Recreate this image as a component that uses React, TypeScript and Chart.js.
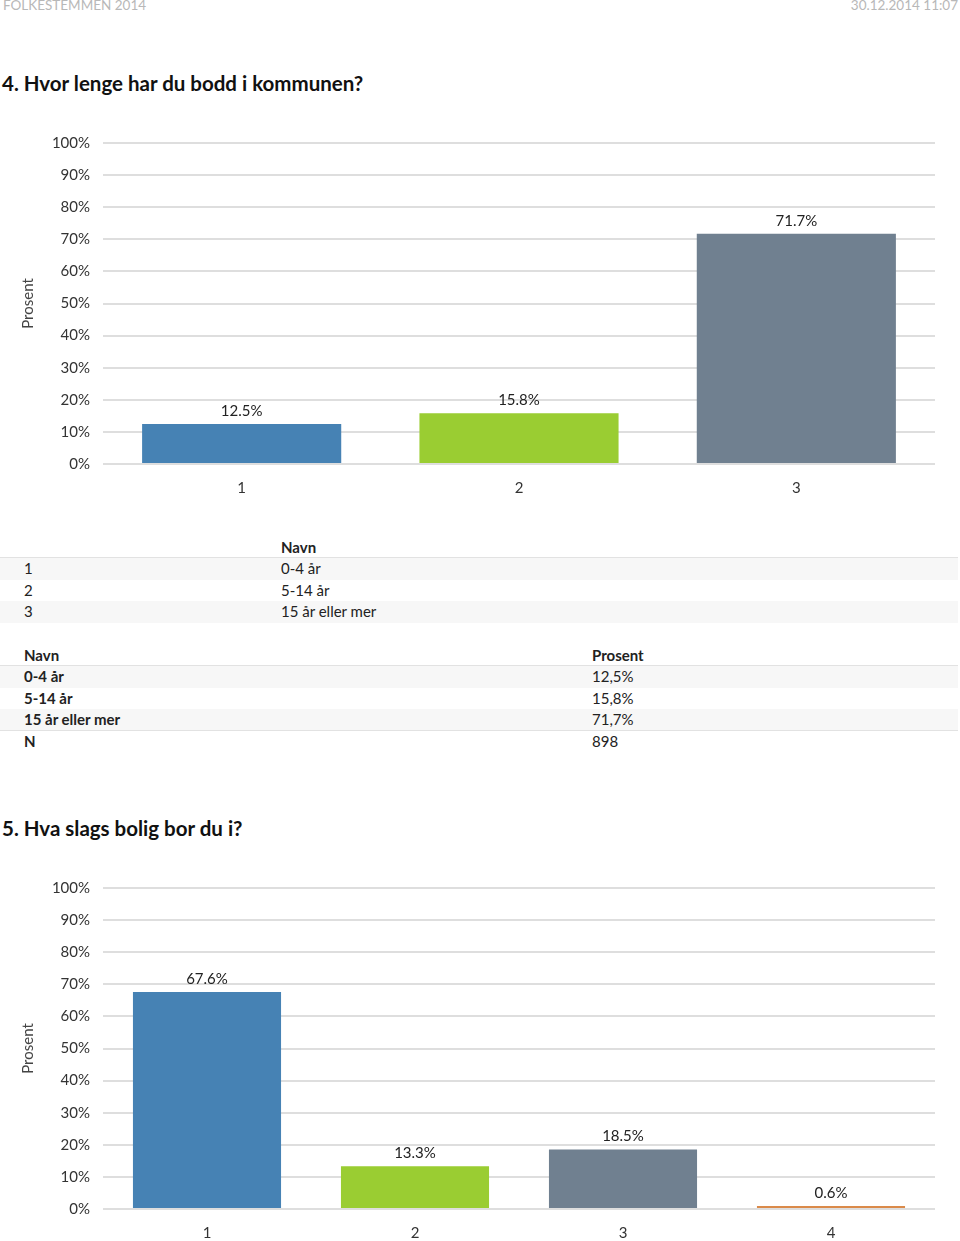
import React, { useEffect, useRef } from "react";
import { Chart, registerables } from "chart.js";

Chart.register(...registerables);

const headerLeft = "FOLKESTEMMEN 2014";
const headerRight = "30.12.2014 11:07";

const q4Title = "4. Hvor lenge har du bodd i kommunen?";
const q4Categories = ["1", "2", "3"];
const q4Values = [12.5, 15.8, 71.7];
const q4Colors = ["#4682B4", "#9ACD32", "#708090"];
const q4Names = ["0-4 år", "5-14 år", "15 år eller mer"];
const q4PercentText = ["12,5%", "15,8%", "71,7%"];
const q4N = "898";

const q5Title = "5. Hva slags bolig bor du i?";
const q5Categories = ["1", "2", "3", "4"];
const q5Values = [67.6, 13.3, 18.5, 0.6];
const q5Colors = ["#4682B4", "#9ACD32", "#708090", "#DA8A4A"];

const yTickMin = 0;
const yTickMax = 100;
const yTickStep = 10;
const axisTitle = "Prosent";

const FONT = "Lato, 'Open Sans', sans-serif";

const valueLabelPlugin = {
  id: "valueLabels",
  afterDatasetsDraw(chart: any) {
    const ctx = chart.ctx;
    const meta = chart.getDatasetMeta(0);
    const data = chart.data.datasets[0].data;
    ctx.save();
    ctx.font = `15px ${FONT}`;
    ctx.fillStyle = "#222";
    ctx.textAlign = "center";
    ctx.textBaseline = "middle";
    meta.data.forEach((bar: any, i: number) => {
      ctx.fillText(`${Number(data[i]).toFixed(1)}%`, bar.x, bar.y - 13);
    });
    ctx.restore();
  },
};

function BarChart(props: {
  labels: string[];
  values: number[];
  colors: string[];
  barPct: number;
  top: number;
}) {
  const ref = useRef<HTMLCanvasElement | null>(null);
  useEffect(() => {
    if (!ref.current) return;
    const chart = new Chart(ref.current, {
      type: "bar",
      data: {
        labels: props.labels,
        datasets: [
          {
            data: props.values,
            backgroundColor: props.colors,
            borderWidth: 0,
            categoryPercentage: 1,
            barPercentage: props.barPct,
            minBarLength: 3,
          },
        ],
      },
      options: {
        animation: false,
        responsive: false,
        maintainAspectRatio: false,
        layout: { padding: { top: 20, right: 25, bottom: 0, left: 0 } },
        plugins: {
          legend: { display: false },
          tooltip: { enabled: false },
        },
        scales: {
          x: {
            grid: { display: false, drawTicks: false },
            border: { display: false },
            ticks: {
              color: "#333",
              font: { family: FONT, size: 15 },
              padding: 15,
            },
            afterFit(scale: any) {
              scale.height = 32;
            },
          },
          y: {
            min: yTickMin,
            max: yTickMax,
            grid: { color: "#dedede", lineWidth: 2, drawTicks: false },
            border: { display: false },
            ticks: {
              stepSize: yTickStep,
              color: "#333",
              font: { family: FONT, size: 15 },
              padding: 13,
              callback: (v: any) => `${v}%`,
            },
            title: {
              display: true,
              text: axisTitle,
              color: "#444",
              font: { family: FONT, size: 15 },
              padding: { top: 19, bottom: 0 },
            },
            afterFit(scale: any) {
              scale.width = 103;
            },
          },
        },
      },
      plugins: [valueLabelPlugin],
    } as any);
    return () => chart.destroy();
  }, []);
  return (
    <canvas
      ref={ref}
      width={960}
      height={375}
      style={{ position: "absolute", left: 0, top: props.top, width: 960, height: 375 }}
    />
  );
}

const textBase: React.CSSProperties = {
  position: "absolute",
  fontFamily: FONT,
  fontSize: 15,
  color: "#222",
  whiteSpace: "nowrap",
};

function Row(props: {
  top: number;
  height: number;
  bg?: string;
  borderBottom?: boolean;
  cells: { x: number; text: string; bold?: boolean }[];
}) {
  return (
    <div
      style={{
        position: "absolute",
        left: 0,
        top: props.top,
        width: 958,
        height: props.height,
        background: props.bg || "transparent",
        borderBottom: props.borderBottom ? "1px solid #e2e2e2" : "none",
        boxSizing: "border-box",
      }}
    >
      {props.cells.map((c, i) => (
        <div
          key={i}
          style={{
            ...textBase,
            left: c.x,
            top: 0,
            height: props.height,
            lineHeight: `${props.height}px`,
            fontWeight: c.bold ? 700 : 400,
          }}
        >
          {c.text}
        </div>
      ))}
    </div>
  );
}

export default function App() {
  useEffect(() => {
    document.body.style.margin = "0";
    document.documentElement.style.overflow = "hidden";
  }, []);
  const gray = "#f7f7f7";
  const rh = 21.7;
  return (
    <div style={{ position: "relative", width: 960, height: 1241, overflow: "hidden", background: "#fff" }}>
      <div style={{ ...textBase, left: 3, top: -3, fontSize: 13.5, color: "#b8b8b8" }}>{headerLeft}</div>
      <div style={{ ...textBase, right: 2, top: -3, fontSize: 13.5, color: "#b8b8b8" }}>{headerRight}</div>

      <div style={{ ...textBase, left: 2, top: 71, fontSize: 20.5, fontWeight: 700, color: "#111" }}>{q4Title}</div>

      <BarChart labels={q4Categories} values={q4Values} colors={q4Colors} barPct={0.718} top={121} />

      <Row top={537} height={21} borderBottom cells={[{ x: 281, text: "Navn", bold: true }]} />
      {q4Categories.map((c, i) => (
        <Row
          key={c}
          top={558 + i * rh}
          height={rh}
          bg={i % 2 === 0 ? gray : undefined}
          cells={[
            { x: 24, text: c },
            { x: 281, text: q4Names[i] },
          ]}
        />
      ))}

      <Row
        top={644}
        height={22}
        borderBottom
        cells={[
          { x: 24, text: "Navn", bold: true },
          { x: 592, text: "Prosent", bold: true },
        ]}
      />
      {q4Names.map((n, i) => (
        <Row
          key={n}
          top={666 + i * rh}
          height={rh}
          bg={i % 2 === 0 ? gray : undefined}
          borderBottom={i === q4Names.length - 1}
          cells={[
            { x: 24, text: n, bold: true },
            { x: 592, text: q4PercentText[i] },
          ]}
        />
      ))}
      <Row
        top={666 + 3 * rh}
        height={rh}
        cells={[
          { x: 24, text: "N", bold: true },
          { x: 592, text: q4N },
        ]}
      />

      <div style={{ ...textBase, left: 2, top: 816, fontSize: 20.5, fontWeight: 700, color: "#111" }}>{q5Title}</div>

      <BarChart labels={q5Categories} values={q5Values} colors={q5Colors} barPct={0.712} top={866} />
    </div>
  );
}
